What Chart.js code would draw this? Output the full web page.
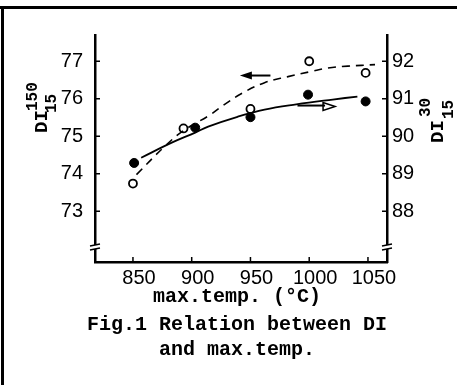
<!DOCTYPE html>
<html>
<head>
<meta charset="utf-8">
<script src="https://cdn.jsdelivr.net/npm/chart.js@4.4.1/dist/chart.umd.min.js"></script>
<style>
  html, body { margin: 0; padding: 0; background: #fff; }
  #wrap { width: 457px; height: 385px; position: relative; }
</style>
</head>
<body>
<div id="wrap"><canvas id="chart" width="457" height="385"></canvas></div>
<script>
// Data
const xTicks = [850, 900, 950, 1000, 1050];
const leftTicks = [73, 74, 75, 76, 77];
const rightTicks = [88, 89, 90, 91, 92];

// DI 150/15 (open circles, left axis)
const tempOpen = [850, 893, 950, 1000, 1048];
const di150 = [73.74, 75.21, 75.73, 77.0, 76.69];

// DI 30/15 (filled circles, right axis)
const tempFilled = [851, 903, 950, 999, 1048];
const di30 = [89.29, 90.23, 90.51, 91.11, 90.93];

// hand drawn trend curves
const curve150Temp = [853, 877, 893, 915, 927, 943, 962, 982, 1002, 1016, 1033, 1056];
const curve150 = [73.98, 74.73, 75.15, 75.56, 75.83, 76.15, 76.43, 76.59, 76.73, 76.82, 76.87, 76.91];
const curve30Temp = [857, 883, 903, 914, 939, 962, 989, 1020, 1041];
const curve30 = [89.43, 89.83, 90.1, 90.26, 90.52, 90.71, 90.85, 90.98, 91.06];

// arrows telling which curve belongs to which axis
const arrowLeft = { from: 967, to: 941, value: 76.62 };   // left axis units
const arrowRight = { from: 990, to: 1022, value: 90.82 }; // right axis units
const breakValue = 72.05;

const toXY = (xs, ys) => xs.map((x, i) => ({ x: x, y: ys[i] }));

const monoBold = "bold 20px 'Liberation Mono', 'DejaVu Sans Mono', monospace";

// Extra drawing: frame, inward ticks, axis breaks, arrows, titles
const decorations = {
    id: 'decorations',
    beforeDraw(chart) {
        const ctx = chart.ctx;
        ctx.save();
        ctx.fillStyle = '#fff';
        ctx.fillRect(0, 0, chart.width, chart.height);
        ctx.fillStyle = '#000';
        ctx.fillRect(0, 6, 457, 3);
        ctx.fillRect(1, 6, 3, 379);
        ctx.restore();
    },
    afterDraw(chart) {
        const ctx = chart.ctx;
        const { x, y, y2 } = chart.scales;
        const area = chart.chartArea;
        ctx.save();
        ctx.strokeStyle = '#000';
        ctx.fillStyle = '#000';
        ctx.lineWidth = 1.5;

        // inward tick marks
        ctx.beginPath();
        leftTicks.forEach(v => {
            const py = y.getPixelForValue(v);
            ctx.moveTo(area.left, py); ctx.lineTo(area.left + 5, py);
        });
        rightTicks.forEach(v => {
            const py = y2.getPixelForValue(v);
            ctx.moveTo(area.right, py); ctx.lineTo(area.right - 5, py);
        });
        xTicks.forEach(v => {
            const px = x.getPixelForValue(v);
            ctx.moveTo(px, area.bottom); ctx.lineTo(px, area.bottom - 5);
        });
        ctx.stroke();

        // axis breaks
        const by = y.getPixelForValue(breakValue);
        [area.left, area.right].forEach(ax => {
            ctx.fillStyle = '#fff';
            ctx.fillRect(ax - 2, by - 2, 4, 4);
            ctx.beginPath();
            ctx.moveTo(ax - 5, by - 1); ctx.lineTo(ax + 5, by - 3);
            ctx.moveTo(ax - 5, by + 3); ctx.lineTo(ax + 5, by + 1);
            ctx.stroke();
        });

        // left-pointing arrow (filled head)
        ctx.lineWidth = 2;
        let ay = y.getPixelForValue(arrowLeft.value);
        let x0 = x.getPixelForValue(arrowLeft.from);
        let x1 = x.getPixelForValue(arrowLeft.to);
        ctx.beginPath();
        ctx.moveTo(x0, ay); ctx.lineTo(x1 + 6, ay);
        ctx.stroke();
        ctx.fillStyle = '#000';
        ctx.beginPath();
        ctx.moveTo(x1, ay); ctx.lineTo(x1 + 12, ay - 4); ctx.lineTo(x1 + 12, ay + 4);
        ctx.closePath();
        ctx.fill();

        // right-pointing arrow (open head)
        ay = y2.getPixelForValue(arrowRight.value);
        x0 = x.getPixelForValue(arrowRight.from);
        x1 = x.getPixelForValue(arrowRight.to);
        ctx.beginPath();
        ctx.moveTo(x0, ay); ctx.lineTo(x1 - 10, ay);
        ctx.stroke();
        ctx.lineWidth = 1.5;
        ctx.beginPath();
        ctx.moveTo(x1, ay + 1); ctx.lineTo(x1 - 12, ay - 3); ctx.lineTo(x1 - 12, ay + 5);
        ctx.closePath();
        ctx.stroke();

        // axis titles DI with stacked indices, rotated
        const drawDI = (ox, oy, sup, sub, supDx, subDx, supDy, subDy) => {
            ctx.save();
            ctx.translate(ox, oy);
            ctx.rotate(-Math.PI / 2);
            ctx.fillStyle = '#000';
            ctx.textAlign = 'left';
            ctx.textBaseline = 'alphabetic';
            ctx.font = "bold 19px 'Liberation Mono', monospace";
            ctx.fillText('DI', 0, 0);
            ctx.font = "bold 16px 'Liberation Mono', monospace";
            ctx.fillText(sup, supDx, supDy);
            ctx.fillText(sub, subDx, subDy);
            ctx.restore();
        };
        drawDI(47, 133, '150', '15', 22, 20, -10, 9);
        drawDI(443, 143, '30', '15', 26, 24, -13, 10);

        // x title and caption
        ctx.fillStyle = '#000';
        ctx.textAlign = 'center';
        ctx.textBaseline = 'middle';
        ctx.font = monoBold;
        ctx.fillText('max.temp. (°C)', 237, 297);
        ctx.fillText('Fig.1 Relation between DI', 237, 325);
        ctx.fillText('and max.temp.', 237, 350);
        ctx.restore();
    }
};

const tickFont = { family: "'Liberation Sans', Arial, sans-serif", size: 20 };

new Chart(document.getElementById('chart'), {
    type: 'scatter',
    data: {
        datasets: [
            {
                type: 'line',
                data: toXY(curve150Temp, curve150),
                yAxisID: 'y',
                borderColor: '#000',
                borderWidth: 1.6,
                borderDash: [8, 6],
                tension: 0.4,
                pointRadius: 0,
                fill: false
            },
            {
                type: 'line',
                data: toXY(curve30Temp, curve30),
                yAxisID: 'y2',
                borderColor: '#000',
                borderWidth: 1.8,
                tension: 0.4,
                pointRadius: 0,
                fill: false
            },
            {
                data: toXY(tempOpen, di150),
                yAxisID: 'y',
                pointStyle: 'circle',
                pointRadius: 4,
                pointBackgroundColor: '#fff',
                pointBorderColor: '#000',
                pointBorderWidth: 1.8
            },
            {
                data: toXY(tempFilled, di30),
                yAxisID: 'y2',
                pointStyle: 'circle',
                pointRadius: 4.5,
                pointBackgroundColor: '#000',
                pointBorderColor: '#000',
                pointBorderWidth: 1
            }
        ]
    },
    options: {
        responsive: false,
        animation: false,
        layout: { padding: { top: 35, left: 0, right: 0, bottom: 0 } },
        plugins: {
            legend: { display: false },
            tooltip: { enabled: false }
        },
        scales: {
            x: {
                type: 'linear',
                min: 817.7,
                max: 1066.2,
                grid: { display: false, drawTicks: false },
                border: { display: true, color: '#000', width: 2.5 },
                ticks: {
                    color: '#000',
                    font: tickFont,
                    padding: 4,
                    labelOffset: 6,
                    callback: function (value) { return String(value); }
                },
                afterBuildTicks: function (scale) {
                    scale.ticks = xTicks.map(v => ({ value: v }));
                },
                afterFit: function (scale) { scale.height = 123; }
            },
            y: {
                type: 'linear',
                position: 'left',
                min: 71.65,
                max: 77.7,
                grid: { display: false, drawTicks: false },
                border: { display: true, color: '#000', width: 2.5 },
                ticks: {
                    color: '#000',
                    font: tickFont,
                    padding: 12,
                    callback: function (value) { return String(value); }
                },
                afterBuildTicks: function (scale) {
                    scale.ticks = leftTicks.map(v => ({ value: v }));
                },
                afterFit: function (scale) { scale.width = 95; }
            },
            y2: {
                type: 'linear',
                position: 'right',
                min: 86.65,
                max: 92.7,
                grid: { display: false, drawTicks: false },
                border: { display: true, color: '#000', width: 2.5 },
                ticks: {
                    color: '#000',
                    font: tickFont,
                    padding: 5,
                    callback: function (value) { return String(value); }
                },
                afterBuildTicks: function (scale) {
                    scale.ticks = rightTicks.map(v => ({ value: v }));
                },
                afterFit: function (scale) { scale.width = 70; }
            }
        }
    },
    plugins: [decorations]
});
</script>
</body>
</html>
